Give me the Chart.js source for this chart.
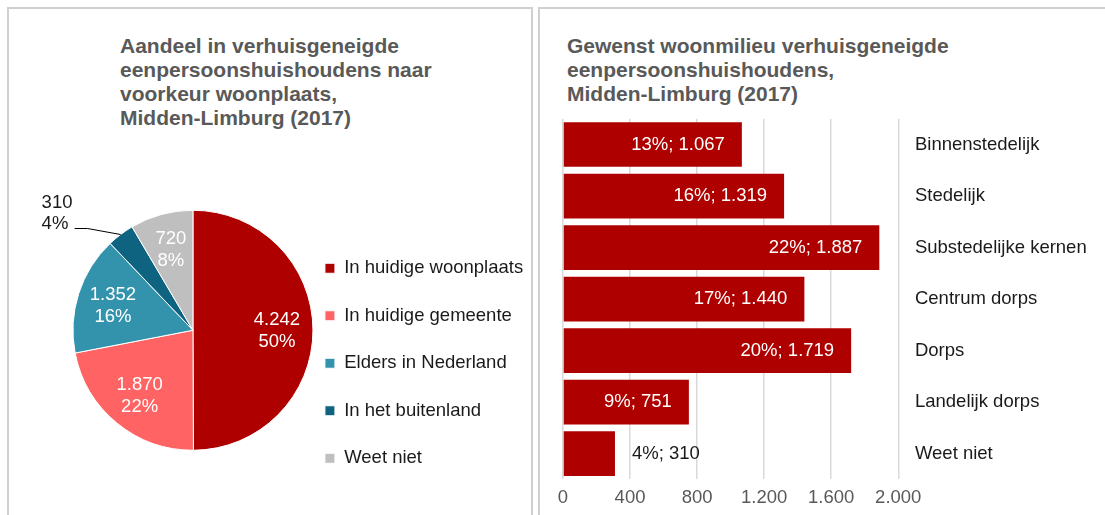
<!DOCTYPE html>
<html lang="nl">
<head>
<meta charset="utf-8">
<title>Verhuisgeneigde eenpersoonshuishoudens Midden-Limburg (2017)</title>
<script src="https://cdn.jsdelivr.net/npm/chart.js@4.4.1/dist/chart.umd.min.js"></script>
<style>
  html, body { margin: 0; padding: 0; background: #fff; }
  body { width: 1105px; height: 515px; position: relative; overflow: hidden; font-family: "Liberation Sans", Arial, sans-serif; }
  .paneel { position: absolute; top: 7px; height: 600px; border: 2px solid #d0d0d0; box-sizing: border-box; }
  #paneelLinks { left: 7px; width: 526px; }
  #paneelRechts { left: 538px; width: 600px; }
  .titel { position: absolute; top: 34px; font-weight: bold; font-size: 21px; line-height: 24px; color: #595959; white-space: nowrap; }
  canvas { position: absolute; }
</style>
</head>
<body>
<div class="paneel" id="paneelLinks"></div>
<div class="paneel" id="paneelRechts"></div>

<div class="titel" style="left:120px">Aandeel in verhuisgeneigde<br>eenpersoonshuishoudens naar<br>voorkeur woonplaats,<br>Midden-Limburg (2017)</div>
<div class="titel" style="left:567px">Gewenst woonmilieu verhuisgeneigde<br>eenpersoonshuishoudens,<br>Midden-Limburg (2017)</div>

<canvas id="woonplaatsChart" width="540" height="385" style="left:0;top:130px"></canvas>
<canvas id="milieuChart" width="565" height="425" style="left:540px;top:91px"></canvas>

<script>
// voorkeur woonplaats (taart)
const woonplaatsLabels = ['In huidige woonplaats', 'In huidige gemeente', 'Elders in Nederland', 'In het buitenland', 'Weet niet'];
const woonplaatsAantal = [4242, 1870, 1352, 310, 720];
const woonplaatsPct = [50, 22, 16, 4, 8];
const woonplaatsKleuren = ['#AF0000', '#FF6363', '#3393AC', '#0E6480', '#BFBFBF'];

// gewenst woonmilieu (staven)
const milieuLabels = ['Binnenstedelijk', 'Stedelijk', 'Substedelijke kernen', 'Centrum dorps', 'Dorps', 'Landelijk dorps', 'Weet niet'];
const milieuAantal = [1067, 1319, 1887, 1440, 1719, 751, 310];
const milieuPct = [13, 16, 22, 17, 20, 9, 4];
const xTicks = [0, 400, 800, 1200, 1600, 2000];

Chart.defaults.font.family = '"Liberation Sans", Arial, sans-serif';
Chart.defaults.devicePixelRatio = 1;

// duizendtallen met een punt
const fmt = v => String(v).replace(/\B(?=(\d{3})+(?!\d))/g, '.');
const labelFont = '18.5px "Liberation Sans", Arial, sans-serif';

// aantal + percentage in de taartpunten, kleine punt met lijntje erbuiten
const taartLabels = {
    id: 'taartLabels',
    afterDatasetsDraw(chart) {
        const ctx = chart.ctx;
        const meta = chart.getDatasetMeta(0);
        ctx.save();
        ctx.font = labelFont;
        ctx.textBaseline = 'middle';
        meta.data.forEach((arc, i) => {
            const {x, y, startAngle, endAngle, outerRadius} = arc.getProps(['x', 'y', 'startAngle', 'endAngle', 'outerRadius'], true);
            const mid = (startAngle + endAngle) / 2;
            const regels = [fmt(woonplaatsAantal[i]), woonplaatsPct[i] + '%'];
            if (woonplaatsPct[i] < 5) {
                const ex = x + Math.cos(mid) * outerRadius;
                const ey = y + Math.sin(mid) * outerRadius;
                const kx = ex - 33, ky = ey - 6;
                ctx.strokeStyle = '#000';
                ctx.lineWidth = 1;
                ctx.beginPath();
                ctx.moveTo(ex, ey);
                ctx.lineTo(kx, ky);
                ctx.lineTo(kx - 13, ky);
                ctx.stroke();
                ctx.fillStyle = '#1a1a1a';
                ctx.textAlign = 'left';
                ctx.fillText(regels[0], kx - 46, ky - 26);
                ctx.fillText(regels[1], kx - 46, ky - 5);
            } else {
                const r = outerRadius * 0.7;
                const lx = x + Math.cos(mid) * r;
                const ly = y + Math.sin(mid) * r + 1;
                ctx.fillStyle = '#fff';
                ctx.textAlign = 'center';
                ctx.fillText(regels[0], lx, ly - 11);
                ctx.fillText(regels[1], lx, ly + 11);
            }
        });
        ctx.restore();
    }
};

// "pct%; aantal" in de staaf, of erachter als de staaf te kort is
const staafLabels = {
    id: 'staafLabels',
    afterDatasetsDraw(chart) {
        const ctx = chart.ctx;
        const meta = chart.getDatasetMeta(0);
        ctx.save();
        ctx.font = labelFont;
        ctx.textBaseline = 'middle';
        meta.data.forEach((bar, i) => {
            const {x, y, base} = bar.getProps(['x', 'y', 'base'], true);
            const tekst = milieuPct[i] + '%; ' + fmt(milieuAantal[i]);
            const breedte = ctx.measureText(tekst).width;
            if (x - base > breedte + 34) {
                ctx.fillStyle = '#fff';
                ctx.textAlign = 'right';
                ctx.fillText(tekst, x - 17, y);
            } else {
                ctx.fillStyle = '#1a1a1a';
                ctx.textAlign = 'left';
                ctx.fillText(tekst, x + 17, y);
            }
        });
        ctx.restore();
    }
};

new Chart(document.getElementById('woonplaatsChart'), {
    type: 'pie',
    data: {
        labels: woonplaatsLabels,
        datasets: [{
            data: woonplaatsAantal,
            backgroundColor: woonplaatsKleuren,
            borderColor: '#fff',
            borderWidth: 1,
            radius: 120,
            clip: false
        }]
    },
    options: {
        responsive: false,
        animation: false,
        layout: { padding: { left: 90, right: 6.85, top: 34, bottom: 18.5 } },
        plugins: {
            legend: {
                position: 'right',
                align: 'end',
                maxWidth: 300,
                labels: {
                    boxWidth: 10,
                    boxHeight: 10,
                    padding: 29,
                    color: '#1a1a1a',
                    font: { size: 18.5 }
                }
            },
            tooltip: { enabled: false }
        }
    },
    plugins: [taartLabels]
});

new Chart(document.getElementById('milieuChart'), {
    type: 'bar',
    data: {
        labels: milieuLabels,
        datasets: [{
            data: milieuAantal,
            backgroundColor: '#AF0000',
            categoryPercentage: 1,
            barPercentage: 0.866
        }]
    },
    options: {
        indexAxis: 'y',
        responsive: false,
        animation: false,
        layout: { padding: { left: 23, top: 0, right: 1.6, bottom: 0 } },
        plugins: {
            legend: { display: false },
            tooltip: { enabled: false }
        },
        scales: {
            x: {
                min: xTicks[0],
                max: xTicks[xTicks.length - 1],
                ticks: {
                    stepSize: xTicks[1] - xTicks[0],
                    padding: 7.2,
                    color: '#595959',
                    font: { size: 18.5 },
                    callback: v => fmt(v)
                },
                grid: { color: '#d9d9d9', lineWidth: 1.5, drawTicks: false },
                border: { display: false }
            },
            y: {
                position: 'right',
                grid: { display: false, drawTicks: false },
                border: { display: false },
                ticks: {
                    padding: 16.7,
                    color: '#1a1a1a',
                    font: { size: 18.5 }
                }
            }
        }
    },
    plugins: [staafLabels]
});
</script>
</body>
</html>
